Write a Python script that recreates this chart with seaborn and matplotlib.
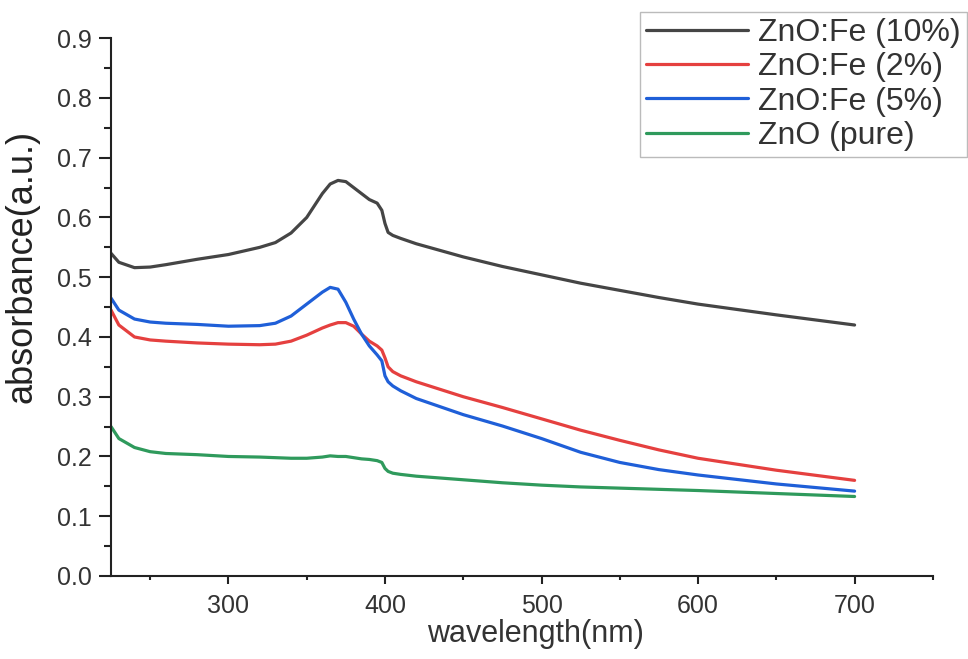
import numpy as np
import pandas as pd
import matplotlib
matplotlib.use("Agg")
import matplotlib.pyplot as plt
from matplotlib.ticker import MultipleLocator, FormatStrFormatter
import seaborn as sns

# longueurs d'onde (nm)
wavelength = [225, 230, 240, 250, 260, 280, 300, 320, 330, 340, 350, 360, 365, 370, 375,
              380, 385, 390, 395, 398, 400, 402, 405, 410, 420, 450, 475, 500, 525, 550,
              575, 600, 650, 700]

fe10 = [0.540, 0.525, 0.516, 0.517, 0.521, 0.530, 0.538, 0.550, 0.558, 0.574, 0.600, 0.640,
        0.656, 0.662, 0.660, 0.650, 0.640, 0.630, 0.624, 0.612, 0.590, 0.575, 0.570, 0.565,
        0.556, 0.534, 0.518, 0.504, 0.490, 0.478, 0.466, 0.455, 0.437, 0.420]
fe2 = [0.445, 0.420, 0.400, 0.395, 0.393, 0.390, 0.388, 0.387, 0.388, 0.393, 0.403, 0.415,
       0.420, 0.424, 0.424, 0.418, 0.405, 0.393, 0.385, 0.378, 0.365, 0.350, 0.342, 0.335,
       0.325, 0.300, 0.282, 0.263, 0.244, 0.227, 0.211, 0.197, 0.177, 0.160]
fe5 = [0.465, 0.445, 0.430, 0.425, 0.423, 0.421, 0.418, 0.419, 0.423, 0.435, 0.455, 0.475,
       0.483, 0.480, 0.458, 0.430, 0.405, 0.385, 0.370, 0.360, 0.335, 0.325, 0.318, 0.310,
       0.297, 0.270, 0.251, 0.230, 0.207, 0.190, 0.178, 0.169, 0.154, 0.142]
pure = [0.250, 0.230, 0.215, 0.208, 0.205, 0.203, 0.200, 0.199, 0.198, 0.197, 0.197, 0.199,
        0.201, 0.200, 0.200, 0.198, 0.196, 0.195, 0.193, 0.190, 0.180, 0.175, 0.172, 0.170,
        0.167, 0.161, 0.156, 0.152, 0.149, 0.147, 0.145, 0.143, 0.138, 0.133]

labels = ["ZnO:Fe (10%)", "ZnO:Fe (2%)", "ZnO:Fe (5%)", "ZnO (pure)"]
colors = ["#454545", "#e5403f", "#1f5fd8", "#2f9a5c"]

frames = []
for lab, vals in zip(labels, [fe10, fe2, fe5, pure]):
    frames.append(pd.DataFrame({"wavelength": wavelength, "absorbance": vals, "sample": lab}))
df = pd.concat(frames, ignore_index=True)

sns.set_theme(style="ticks")
plt.rcParams['font.family'] = ['Liberation Sans', 'DejaVu Sans']
plt.rcParams['text.color'] = '#333333'

fig = plt.figure(figsize=(9.68, 6.59), dpi=100)
ax = fig.add_axes([0.1147, 0.126, 0.849, 0.816])

sns.lineplot(data=df, x="wavelength", y="absorbance", hue="sample", hue_order=labels,
             palette=colors, linewidth=2.3, ax=ax, sort=False)

ax.set_xlim(225, 750)
ax.set_ylim(0, 0.9)
ax.set_xticks([300, 400, 500, 600, 700])
ax.xaxis.set_minor_locator(MultipleLocator(50))
ax.yaxis.set_major_locator(MultipleLocator(0.1))
ax.yaxis.set_minor_locator(MultipleLocator(0.05))
ax.yaxis.set_major_formatter(FormatStrFormatter("%.1f"))

for s in ["top", "right"]:
    ax.spines[s].set_visible(False)
for s in ["left", "bottom"]:
    ax.spines[s].set_linewidth(1.5)
    ax.spines[s].set_color("#222222")

ax.tick_params(axis="y", which="major", length=9, width=1.5, labelsize=18, colors="#222222",
               labelcolor="#333333", pad=5)
ax.tick_params(axis="y", which="minor", length=5, width=1.5, colors="#222222")
ax.tick_params(axis="x", which="major", length=6, width=1.5, labelsize=18, colors="#222222",
               labelcolor="#333333", pad=7)
ax.tick_params(axis="x", which="minor", length=3, width=1.5, colors="#222222")

ax.set_xlabel("wavelength(nm)", fontsize=22, color="#333333")
ax.xaxis.set_label_coords(0.5 + 14 / 822, -43 / 538)
ax.set_ylabel("absorbance(a.u.)", fontsize=26, color="#222222")
ax.yaxis.set_label_coords(-72 / 822, 0.5 + 41 / 538)

leg = ax.legend(loc="upper right", bbox_to_anchor=(0.999, 0.982), bbox_transform=fig.transFigure,
                fontsize=23, frameon=True, fancybox=False, handlelength=3.2, handletextpad=0.3,
                labelspacing=0.13, borderpad=0.2, borderaxespad=0)
leg.get_frame().set_edgecolor("#aaaaaa")
leg.get_frame().set_linewidth(1.0)
for line in leg.get_lines():
    line.set_linewidth(2.3)

fig.savefig("out.png", dpi=100)
